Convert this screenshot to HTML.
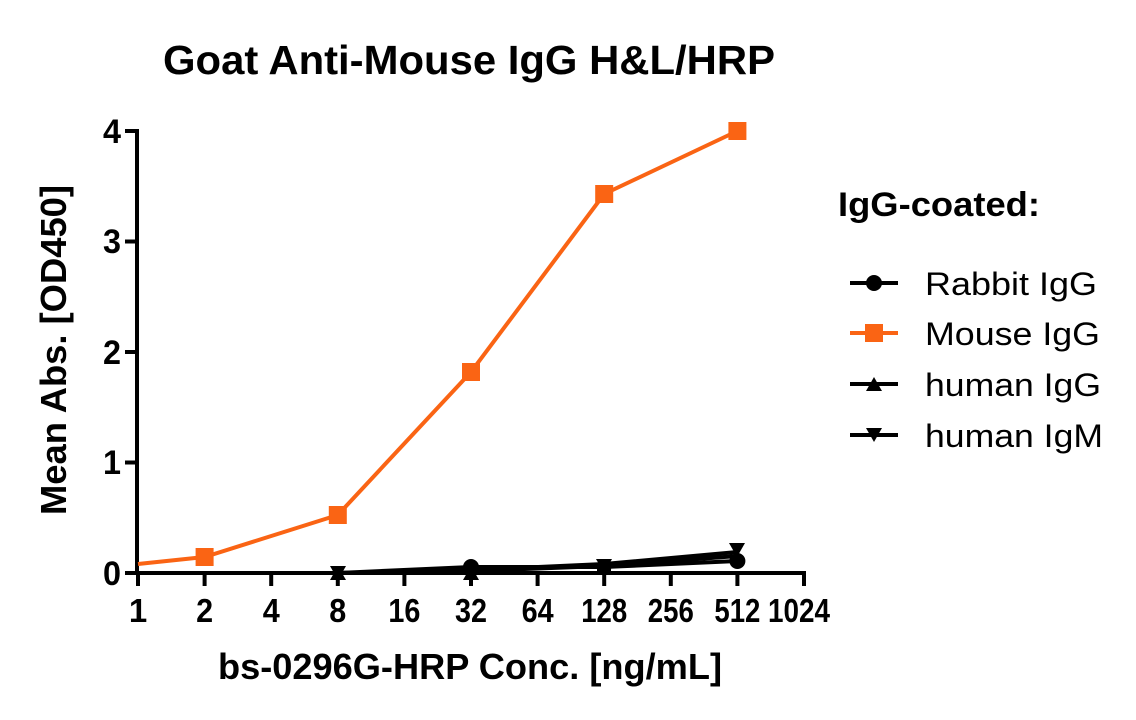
<!DOCTYPE html>
<html><head><style>body{margin:0;background:#fff}svg{display:block}</style></head><body>
<svg width="1136" height="720" xmlns="http://www.w3.org/2000/svg" font-family="Liberation Sans, Arial, sans-serif">
<text x="469" y="74" font-size="41" font-weight="bold" text-anchor="middle" textLength="612" lengthAdjust="spacingAndGlyphs">Goat Anti-Mouse IgG H&amp;L/HRP</text>
<text transform="translate(66,350) rotate(-90)" font-size="36" font-weight="bold" text-anchor="middle" textLength="330" lengthAdjust="spacingAndGlyphs">Mean Abs. [OD450]</text>
<text x="470" y="679" font-size="36" font-weight="bold" text-anchor="middle" textLength="504" lengthAdjust="spacingAndGlyphs">bs-0296G-HRP Conc. [ng/mL]</text>
<g stroke="#000" stroke-width="4" fill="none">
<line x1="137" y1="129" x2="137" y2="575"/>
<line x1="135" y1="573" x2="806" y2="573"/>
<line x1="125" y1="131" x2="137" y2="131"/><line x1="125" y1="241.5" x2="137" y2="241.5"/><line x1="125" y1="352" x2="137" y2="352"/><line x1="125" y1="462.5" x2="137" y2="462.5"/><line x1="125" y1="573" x2="137" y2="573"/>
<line x1="138" y1="573" x2="138" y2="586"/><line x1="204.6" y1="573" x2="204.6" y2="586"/><line x1="271.2" y1="573" x2="271.2" y2="586"/><line x1="337.8" y1="573" x2="337.8" y2="586"/><line x1="404.4" y1="573" x2="404.4" y2="586"/><line x1="471" y1="573" x2="471" y2="586"/><line x1="537.6" y1="573" x2="537.6" y2="586"/><line x1="604.2" y1="573" x2="604.2" y2="586"/><line x1="670.8" y1="573" x2="670.8" y2="586"/><line x1="737.4" y1="573" x2="737.4" y2="586"/><line x1="804" y1="573" x2="804" y2="586"/>
</g>
<g font-size="34" font-weight="bold" text-anchor="end">
<text x="121" y="143" textLength="18" lengthAdjust="spacingAndGlyphs">4</text><text x="121" y="253" textLength="18" lengthAdjust="spacingAndGlyphs">3</text><text x="121" y="364" textLength="18" lengthAdjust="spacingAndGlyphs">2</text><text x="121" y="474" textLength="18" lengthAdjust="spacingAndGlyphs">1</text><text x="121" y="585" textLength="18" lengthAdjust="spacingAndGlyphs">0</text>
</g>
<g font-size="33" font-weight="bold" text-anchor="middle">
<text x="138" y="622">1</text><text x="204.6" y="622" textLength="17" lengthAdjust="spacingAndGlyphs">2</text><text x="271.2" y="622" textLength="17" lengthAdjust="spacingAndGlyphs">4</text><text x="337.8" y="622" textLength="17" lengthAdjust="spacingAndGlyphs">8</text><text x="404.4" y="622" textLength="32" lengthAdjust="spacingAndGlyphs">16</text><text x="471" y="622" textLength="32" lengthAdjust="spacingAndGlyphs">32</text><text x="537.6" y="622" textLength="32" lengthAdjust="spacingAndGlyphs">64</text><text x="604.2" y="622" textLength="46" lengthAdjust="spacingAndGlyphs">128</text><text x="670.8" y="622" textLength="46" lengthAdjust="spacingAndGlyphs">256</text><text x="737.4" y="622" textLength="46" lengthAdjust="spacingAndGlyphs">512</text><text x="799" y="622" textLength="62" lengthAdjust="spacingAndGlyphs">1024</text>
</g>
<g stroke="#000" stroke-width="4" fill="none">
<polyline points="337.8,573 471,567 604.2,567 737.4,561"/>
<polyline points="337.8,573 471,571 604.2,566 737.4,556"/>
<polyline points="337.8,573 471,570 604.2,564 737.4,552"/>
</g>
<g fill="#000">
<circle cx="471" cy="567" r="8"/><circle cx="737.4" cy="561" r="8"/><circle cx="604.2" cy="568" r="7"/>
<path d="M330,580 L346,580 L338,566Z"/><path d="M463,580 L479,580 L471,566Z"/>
<path d="M330,566 L346,566 L338,580Z"/><path d="M596,559 L612,559 L604,573Z"/><path d="M729,543 L745,543 L737,557Z"/>
<rect x="597" y="565" width="14" height="8"/>
</g>
<polyline points="138,564 204.6,557 337.8,515 471,372 604.2,194 737.4,131" stroke="#fa6414" stroke-width="4" fill="none"/>
<g fill="#fa6414">
<rect x="195.6" y="548" width="18" height="18"/><rect x="328.8" y="506" width="18" height="18"/><rect x="462" y="363" width="18" height="18"/><rect x="595.2" y="185" width="18" height="18"/><rect x="728.4" y="122" width="18" height="18"/>
</g>
<text x="838" y="216" font-size="34" font-weight="bold" textLength="202" lengthAdjust="spacingAndGlyphs">IgG-coated:</text>
<g stroke-width="4">
<line x1="850" y1="283" x2="898" y2="283" stroke="#000"/><line x1="850" y1="333" x2="898" y2="333" stroke="#fa6414"/><line x1="850" y1="384" x2="898" y2="384" stroke="#000"/><line x1="850" y1="435" x2="898" y2="435" stroke="#000"/>
</g>
<circle cx="874" cy="283" r="8"/>
<rect x="865" y="324" width="18" height="18" fill="#fa6414"/>
<path d="M866,391 L882,391 L874,377Z"/>
<path d="M866,428 L882,428 L874,442Z"/>
<g font-size="32">
<text x="925" y="295" textLength="172" lengthAdjust="spacingAndGlyphs">Rabbit IgG</text><text x="925" y="345" textLength="175" lengthAdjust="spacingAndGlyphs">Mouse IgG</text><text x="925" y="396" textLength="176" lengthAdjust="spacingAndGlyphs">human IgG</text><text x="925" y="447" textLength="178" lengthAdjust="spacingAndGlyphs">human IgM</text>
</g>
</svg>
</body></html>
